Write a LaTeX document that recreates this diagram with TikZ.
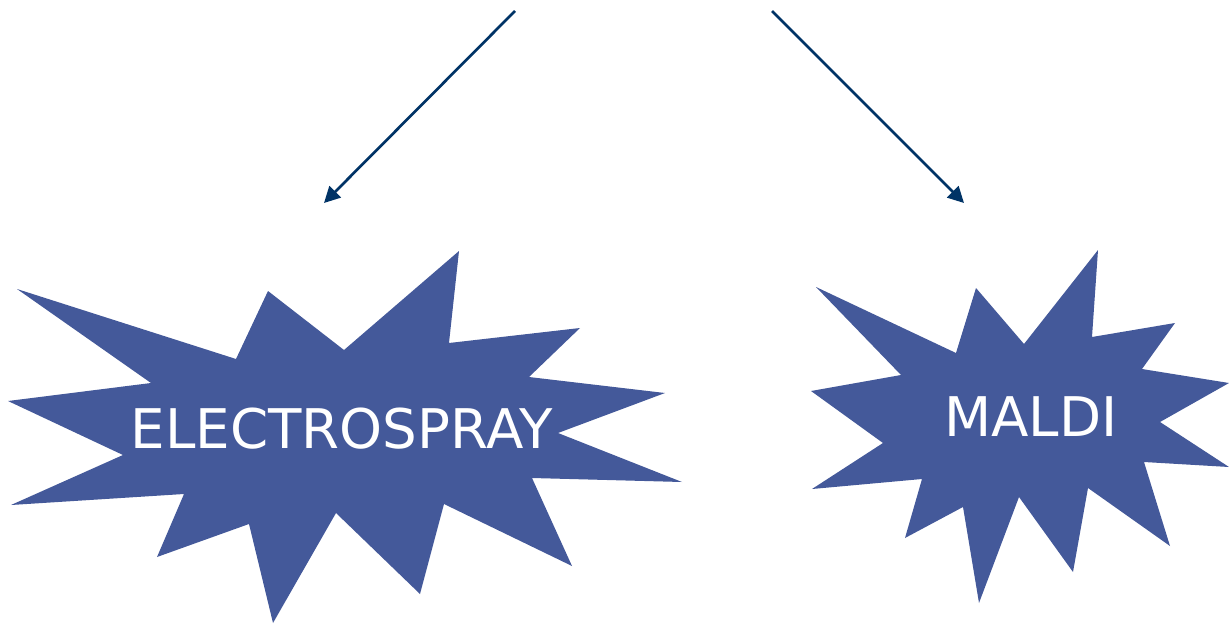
\documentclass[tikz,border=0pt]{standalone}
\usepackage{fontspec}
\setmainfont{DejaVu Sans}
\usetikzlibrary{arrows.meta}
\definecolor{burst}{HTML}{44599A}
\definecolor{navy}{HTML}{003366}
\tikzset{
  burstshape/.style={fill=burst, draw=none},
  burstlabel/.style={text=white, font=\fontsize{41}{48}\selectfont, inner sep=0pt},
  connector/.style={draw=navy, line width=2pt, -{Triangle[length=12pt,width=12pt]}}
}
\begin{document}
\begin{tikzpicture}[x=0.75pt,y=-0.75pt]
\useasboundingbox (0,0) rectangle (1229,625);
% ELECTROSPRAY starburst
\fill[burstshape] (17,289) -- (236,359) -- (268,291) -- (344,350) -- (459,251) -- (449,343)
  -- (580,328) -- (529,377) -- (665,393) -- (558,433) -- (682,482) -- (532,478)
  -- (572,566) -- (444,504) -- (420,594) -- (336,513) -- (273,623) -- (249,524)
  -- (157,557) -- (184,494) -- (11,505) -- (123,455) -- (8,401) -- (151,383) -- cycle;
% MALDI starburst
\fill[burstshape] (816,287) -- (956,353) -- (976,288) -- (1024,344) -- (1098,250) -- (1092,337)
  -- (1175,323) -- (1142,369) -- (1229,383) -- (1160,422) -- (1229,467) -- (1144,462)
  -- (1170,546) -- (1088,488) -- (1073,572) -- (1019,497) -- (979,603) -- (963,507)
  -- (905,538) -- (922,479) -- (812,489) -- (883,443) -- (811,391) -- (901,375) -- cycle;
\node[burstlabel] (esi) at (341.5,429) {ELECTROSPRAY};
\node[burstlabel] (maldi) at (1031,417) {MALDI};
\coordinate (ls) at (515,11);
\coordinate (le) at (324,203);
\coordinate (rs) at (772,11);
\coordinate (re) at (964,203);
\draw[connector] (ls) -- (le);
\draw[connector] (rs) -- (re);
\end{tikzpicture}
\end{document}
